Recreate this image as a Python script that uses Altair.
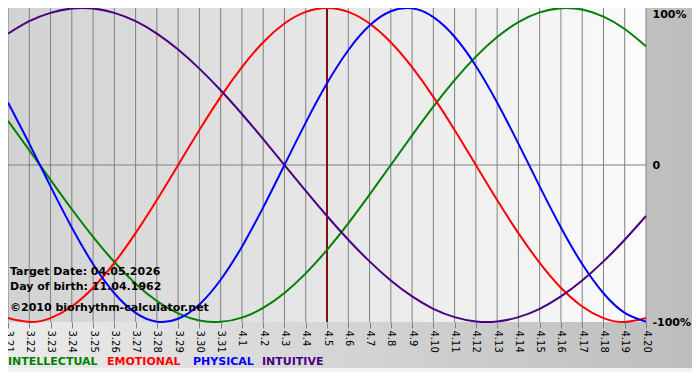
import altair as alt
import pandas as pd

# ---- data ----
dates = ["3.21", "3.22", "3.23", "3.24", "3.25", "3.26", "3.27", "3.28", "3.29", "3.30", "3.31",
         "4.1", "4.2", "4.3", "4.4", "4.5", "4.6", "4.7", "4.8", "4.9", "4.10",
         "4.11", "4.12", "4.13", "4.14", "4.15", "4.16", "4.17", "4.18", "4.19", "4.20"]

intellectual = [0.282, 0.095, -0.095, -0.282, -0.458, -0.618, -0.756, -0.866, -0.945, -0.990, -0.999,
                -0.972, -0.910, -0.815, -0.690, -0.541, -0.372, -0.189, 0.000, 0.189, 0.372,
                0.541, 0.690, 0.815, 0.910, 0.972, 0.999, 0.990, 0.945, 0.866, 0.756]
emotional = [-0.975, -1.000, -0.975, -0.901, -0.782, -0.623, -0.434, -0.223, 0.000, 0.223, 0.434,
             0.623, 0.782, 0.901, 0.975, 1.000, 0.975, 0.901, 0.782, 0.623, 0.434,
             0.223, 0.000, -0.223, -0.434, -0.623, -0.782, -0.901, -0.975, -1.000, -0.975]
physical = [0.398, 0.136, -0.136, -0.398, -0.631, -0.817, -0.942, -0.998, -0.979, -0.888, -0.731,
            -0.520, -0.270, 0.000, 0.270, 0.520, 0.731, 0.888, 0.979, 0.998, 0.942,
            0.817, 0.631, 0.398, 0.136, -0.136, -0.398, -0.631, -0.817, -0.942, -0.998]
intuitive = [0.837, 0.916, 0.969, 0.997, 0.997, 0.969, 0.916, 0.837, 0.736, 0.614, 0.476,
             0.325, 0.165, 0.000, -0.165, -0.325, -0.476, -0.614, -0.736, -0.837, -0.916,
             -0.969, -0.997, -0.997, -0.969, -0.916, -0.837, -0.736, -0.614, -0.476, -0.325]

series_names = ["INTELLECTUAL", "EMOTIONAL", "PHYSICAL", "INTUITIVE"]
series_colors = ["#008000", "#ff0000", "#0000ff", "#4b0082"]
target_date = "4.5"
y_ticks = [-1, 0, 1]
info_lines = ["Target Date: 04.05.2026", "Day of birth: 11.04.1962", "\u00a92010 biorhythm-calculator.net"]

# ---- layout / style ----
W, H = 638, 314
PAD_R, PAD_B = 46, 50
FONT = "DejaVu Sans"
legend_x = [0, 99, 185, 254]
info_y = [H - 50, H - 35, H - 14]

rows = []
for name, vals in zip(series_names, [intellectual, emotional, physical, intuitive]):
    for d, v in zip(dates, vals):
        rows.append({"date": d, "value": v, "series": name})
df = pd.DataFrame(rows)

xscale = alt.Scale(type="point", domain=dates, padding=0)
yscale = alt.Scale(domain=[-1, 1], nice=False, zero=False)

x_axis = alt.Axis(title=None, labelAngle=90, labelFont=FONT, labelFontSize=10, labelColor="#000000",
                  tickSize=6, tickColor="#808080", labelPadding=2, domain=False, grid=False, zindex=1)
y_axis = alt.Axis(title=None, orient="right", values=y_ticks,
                  labelExpr="datum.value > 0 ? '100%' : (datum.value < 0 ? '-100%' : '0')",
                  labelFont=FONT, labelFontSize=11, labelFontWeight="bold", labelColor="#000000",
                  labelPadding=6, ticks=False, domain=False, grid=False, zindex=1,
                  labelBaseline=alt.condition("datum.value == 1", alt.value("top"), alt.value("middle")))

X = alt.X("date:N", scale=xscale, axis=x_axis, sort=dates)
Y = alt.Y("value:Q", scale=yscale, axis=y_axis)

one = pd.DataFrame({"a": [0]})

bg = alt.Chart(one).mark_rect(
    fill={"gradient": "linear", "x1": 0, "x2": 1, "y1": 0, "y2": 0,
          "stops": [{"offset": 0, "color": "#ebebeb"}, {"offset": 1, "color": "#bdbdbd"}]}
).encode(x=alt.value(0), x2=alt.value(W + PAD_R), y=alt.value(0), y2=alt.value(H + PAD_B - 4))

plot_bg = alt.Chart(one).mark_rect(
    fill={"gradient": "linear", "x1": 0, "x2": 1, "y1": 0, "y2": 0,
          "stops": [{"offset": 0, "color": "#d2d2d2"}, {"offset": 1, "color": "#fbfbfb"}]}
).encode(x=alt.value(0), x2=alt.value(W), y=alt.value(0), y2=alt.value(H))

grid = alt.Chart(pd.DataFrame({"date": dates})).mark_rule(color="#808080", strokeWidth=1).encode(
    x=X, y=alt.value(0), y2=alt.value(H))

zero = alt.Chart(one).mark_rule(color="#808080", strokeWidth=1).encode(y=alt.datum(0, scale=yscale))

target = alt.Chart(pd.DataFrame({"date": [target_date]})).mark_rule(color="#7a1010", strokeWidth=2).encode(x=X)

lines = alt.Chart(df).mark_line(strokeWidth=2, interpolate="natural").encode(
    x=X, y=Y,
    color=alt.Color("series:N", scale=alt.Scale(domain=series_names, range=series_colors), legend=None),
    detail="series:N",
)

layers = [bg, plot_bg, grid, zero, target, lines]

for txt, yy in zip(info_lines, info_y):
    layers.append(alt.Chart(one).mark_text(text=txt, align="left", baseline="middle", font=FONT,
                                           fontSize=11, fontWeight="bold", color="#000000")
                  .encode(x=alt.value(2), y=alt.value(yy)))

for name, col, xx in zip(series_names, series_colors, legend_x):
    layers.append(alt.Chart(one).mark_text(text=name, align="left", baseline="middle", font=FONT,
                                           fontSize=11, fontWeight="bold", color=col)
                  .encode(x=alt.value(xx), y=alt.value(H + 40)))

chart = alt.layer(*layers).properties(
    width=W, height=H,
    autosize=alt.AutoSizeParams(type="none"),
    padding={"left": 0, "top": 0, "right": PAD_R, "bottom": PAD_B},
    background="#f2f2f2",
).configure_view(stroke=None)

chart.save("out.html", embed_options={"renderer": "svg", "actions": False})
